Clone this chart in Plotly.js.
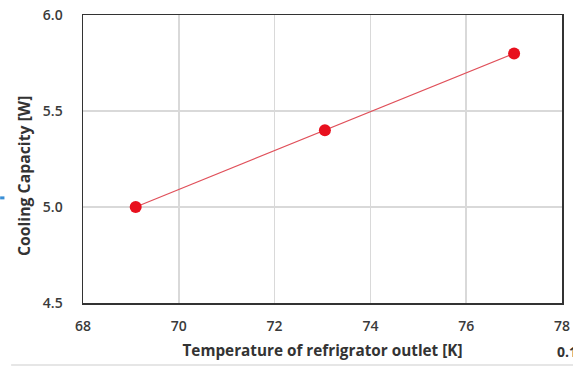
<!DOCTYPE html>
<html><head><meta charset="utf-8">
<script src="https://cdn.plot.ly/plotly-3.0.1.min.js"></script>
<style>html,body{margin:0;padding:0;background:#fff}</style>
</head><body>
<div id="chart" style="width:573px;height:367px"></div>
<script>
const temperature = [69.1, 73.05, 77.0];
const coolingCapacity = [5.0, 5.4, 5.8];
const xTicks = [68, 70, 72, 74, 76, 78];
const yTicks = [4.5, 5.0, 5.5, 6.0];
const yTickLabels = ['4.5', '5.0', '5.5', '6.0'];
const xTitle = 'Temperature of refrigrator outlet [K]';
const yTitle = 'Cooling Capacity [W]';

const font = 'Open Sans, Liberation Sans, sans-serif';
Plotly.newPlot('chart', [{
  x: temperature, y: coolingCapacity, type: 'scatter', mode: 'lines+markers',
  line: {color: '#e0505a', width: 1.2},
  marker: {color: '#e8101e', size: 12}
}], {
  width: 573, height: 367,
  margin: {l: 83, r: 11, t: 15, b: 64},
  paper_bgcolor: '#fff', plot_bgcolor: '#fff',
  showlegend: false,
  font: {family: font, color: '#333', size: 14},
  xaxis: {
    range: [68, 78], tickvals: xTicks, ticktext: xTicks.map(String),
    showgrid: true, gridcolor: '#d9d9d9', gridwidth: 1.5,
    showline: true, linecolor: '#333', linewidth: 1.5, mirror: true,
    ticks: '', zeroline: false, ticklabelstandoff: 10,
    tickfont: {family: font, size: 14, color: '#3a3a3a', weight: 600},
    title: {text: xTitle, font: {family: font, size: 15.3, color: '#333', weight: 'bold'}, standoff: 11}
  },
  yaxis: {
    range: [4.5, 6.0], tickvals: yTicks, ticktext: yTickLabels,
    showgrid: true, gridcolor: '#d9d9d9', gridwidth: 1.5,
    showline: true, linecolor: '#333', linewidth: 1.5, mirror: true,
    ticks: '', zeroline: false, ticklabelstandoff: 16,
    tickfont: {family: font, size: 14, color: '#3a3a3a', weight: 600}
  },
  annotations: [{
    xref: 'paper', yref: 'paper', x: -0.123, y: 0.441, xanchor: 'center', yanchor: 'middle',
    textangle: -90, text: yTitle, showarrow: false,
    font: {family: font, size: 15.8, color: '#333', weight: 'bold'}
  }, {
    xref: 'paper', yref: 'paper', x: 0.985, y: -0.17, xanchor: 'left', yanchor: 'middle',
    text: '0.1', showarrow: false, font: {family: font, size: 14, color: '#333', weight: 'bold'}
  }],
  shapes: [{
    type: 'line', xref: 'paper', yref: 'paper', x0: -0.173, x1: -0.164, y0: 0.365, y1: 0.365,
    line: {color: '#3a8fd6', width: 3}
  }, {
    type: 'line', xref: 'paper', yref: 'paper', x0: -0.15, x1: 1.03, y0: -0.215, y1: -0.215,
    line: {color: '#e6e6e6', width: 2}
  }]
}, {displayModeBar: false, staticPlot: true});
</script>
</body></html>
